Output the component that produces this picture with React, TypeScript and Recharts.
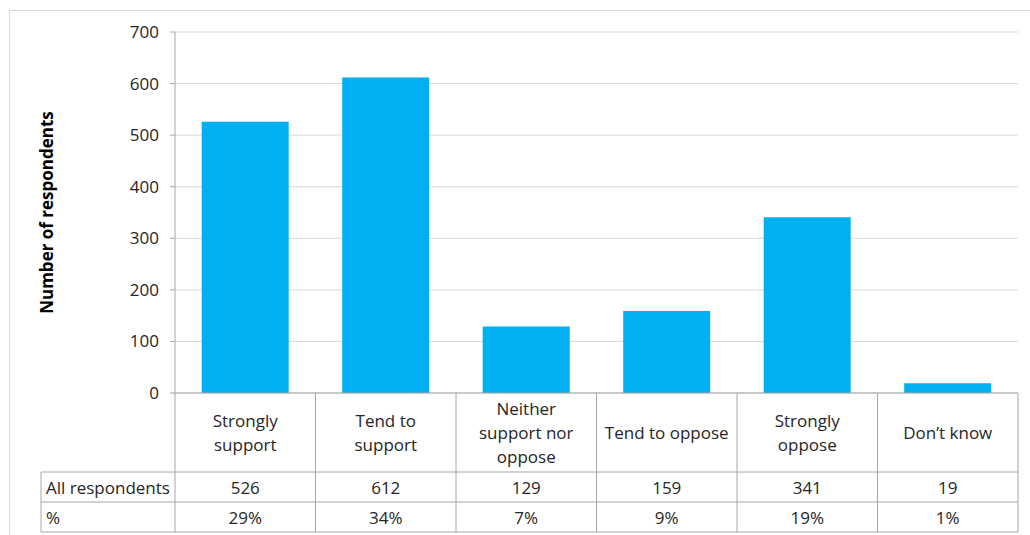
import React from "react";
import { BarChart, Bar, XAxis, YAxis, CartesianGrid } from "recharts";

const categories = [
  "Strongly\nsupport",
  "Tend to\nsupport",
  "Neither\nsupport nor\noppose",
  "Tend to oppose",
  "Strongly\noppose",
  "Don’t know",
];
const counts = [526, 612, 129, 159, 341, 19];
const percents = ["29%", "34%", "7%", "9%", "19%", "1%"];
const yTicks = [0, 100, 200, 300, 400, 500, 600, 700];
const rowLabels = ["All respondents", "%"];

const data = categories.map((name, i) => ({ name, count: counts[i] }));

const W = 1030;
const H = 535;
const MARGIN = { top: 32, right: 12, left: 40, bottom: 0 };
const Y_WIDTH = 135;
const X_HEIGHT = 142;
const PLOT_LEFT = MARGIN.left + Y_WIDTH;
const PLOT_RIGHT = W - MARGIN.right;
const BAND = (PLOT_RIGHT - PLOT_LEFT) / categories.length;

const HEAD_H = 79;
const ROW_H = 30;
const TABLE_LEFT = 41;
const LINE = "#a6a6a6";
const TEXT = "#262626";
const FONT = "'Open Sans', 'Liberation Sans', sans-serif";

function TableTick(props: any) {
  const { x, y, payload } = props;
  const i = payload.index ?? props.index ?? 0;
  const left = x - BAND / 2;
  const right = x + BAND / 2;
  const lines = String(payload.value).split("\n");
  const midHead = y + HEAD_H / 2;
  const r1 = y + HEAD_H;
  const r2 = r1 + ROW_H;
  const r3 = r2 + ROW_H;
  const txt = { fill: TEXT, fontSize: 17, fontFamily: FONT };
  return (
    <g>
      <line x1={left} y1={y} x2={left} y2={r3} stroke={LINE} />
      {i === categories.length - 1 && (
        <line x1={right} y1={y} x2={right} y2={r3} stroke={LINE} />
      )}
      <line x1={left} y1={r1} x2={right} y2={r1} stroke={LINE} />
      <line x1={left} y1={r2} x2={right} y2={r2} stroke={LINE} />
      <line x1={left} y1={r3} x2={right} y2={r3} stroke={LINE} />
      {lines.map((l, k) => (
        <text
          key={k}
          x={x}
          y={midHead + (k - (lines.length - 1) / 2) * 24}
          textAnchor="middle"
          dominantBaseline="central"
          {...txt}
        >
          {l}
        </text>
      ))}
      <text x={x} y={r1 + ROW_H / 2} textAnchor="middle" dominantBaseline="central" {...txt}>
        {counts[i]}
      </text>
      <text x={x} y={r2 + ROW_H / 2} textAnchor="middle" dominantBaseline="central" {...txt}>
        {percents[i]}
      </text>
      {i === 0 && (
        <g>
          <line x1={TABLE_LEFT} y1={r1} x2={left} y2={r1} stroke={LINE} />
          <line x1={TABLE_LEFT} y1={r2} x2={left} y2={r2} stroke={LINE} />
          <line x1={TABLE_LEFT} y1={r3} x2={left} y2={r3} stroke={LINE} />
          <line x1={TABLE_LEFT} y1={r1} x2={TABLE_LEFT} y2={r3} stroke={LINE} />
          {rowLabels.map((lab, k) => (
            <text
              key={lab}
              x={TABLE_LEFT + 5}
              y={r1 + ROW_H / 2 + k * ROW_H}
              dominantBaseline="central"
              {...txt}
            >
              {lab}
            </text>
          ))}
        </g>
      )}
    </g>
  );
}

export default function App() {
  return (
    <div style={{ position: "absolute", left: 0, top: 0, width: W, height: H, background: "#fff" }}>
      <div
        style={{
          position: "absolute",
          left: 9,
          top: 10,
          width: W - 9,
          height: H - 10,
          borderTop: "1px solid #d9d9d9",
          borderLeft: "1px solid #d9d9d9",
          boxSizing: "border-box",
        }}
      />
      <BarChart
        width={W}
        height={H}
        data={data}
        margin={MARGIN}
        barCategoryGap="19%"
        style={{ position: "absolute", left: 0, top: 0 }}
      >
        <CartesianGrid vertical={false} stroke="#d9d9d9" />
        <YAxis
          width={Y_WIDTH}
          domain={[0, 700]}
          ticks={yTicks}
          tickSize={5}
          tickMargin={11}
          axisLine={{ stroke: LINE }}
          tickLine={{ stroke: LINE }}
          tick={{ fill: TEXT, fontSize: 17, fontFamily: FONT }}
          label={{
            value: "Number of respondents",
            angle: -90,
            position: "insideLeft",
            offset: 7,
            style: { textAnchor: "middle", fontWeight: "bold", fontSize: 17, fill: "#000", fontFamily: FONT },
          }}
        />
        <XAxis
          dataKey="name"
          height={X_HEIGHT}
          interval={0}
          tickSize={0}
          tickMargin={0}
          tickLine={false}
          axisLine={{ stroke: LINE }}
          tick={<TableTick />}
        />
        <Bar dataKey="count" fill="#00b0f0" isAnimationActive={false} />
      </BarChart>
    </div>
  );
}
